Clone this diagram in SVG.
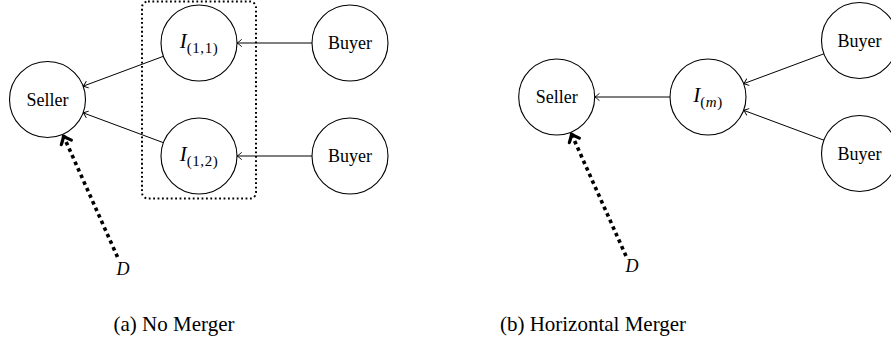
<svg xmlns="http://www.w3.org/2000/svg" width="891" height="352" viewBox="0 0 891 352">
<style>
.node{fill:#fff;stroke:#000;stroke-width:1.1}
.lbl{font-family:"Liberation Serif","DejaVu Serif",serif;font-size:18px;fill:#000;text-anchor:middle}
.it{font-style:italic}
.sub{font-size:15px;letter-spacing:0.6px}
.edge{stroke:#000;stroke-width:1;fill:none;marker-end:url(#arr)}
.dem{stroke:#000;stroke-width:3.6;fill:none;stroke-dasharray:3.6 3.6;marker-end:url(#thick)}
.cap{font-family:"Liberation Serif","DejaVu Serif",serif;font-size:21px;fill:#000;text-anchor:middle}
</style>
<defs>
<marker id="arr" viewBox="-6 -5 8 10" refX="0" refY="0" markerWidth="8" markerHeight="10" markerUnits="userSpaceOnUse" orient="auto" overflow="visible">
<path d="M -4.5 -3.4 Q -1.4 -0.7 0 0 Q -1.4 0.7 -4.5 3.4" fill="none" stroke="#000" stroke-width="0.9" stroke-linecap="round"/>
</marker>
<marker id="thick" viewBox="-10 -8 12 16" refX="0" refY="0" markerWidth="12" markerHeight="16" markerUnits="userSpaceOnUse" orient="auto" overflow="visible">
<path d="M -7 -5.5 Q -2.2 -1.2 0 0 Q -2.2 1.2 -7 5.5" fill="none" stroke="#000" stroke-width="3.2" stroke-linecap="round" stroke-linejoin="round"/>
</marker>
</defs>

<g id="merger-box">
<rect x="142" y="1.5" width="114" height="197" rx="6" fill="none" stroke="#000" stroke-width="2" stroke-dasharray="1.8 2.6"/>
</g>

<g id="connectors">
<line class="edge" x1="163.4" y1="56.3" x2="83.1" y2="86.2"/>
<line class="edge" x1="163.4" y1="142.7" x2="83.1" y2="112.8"/>
<line class="edge" x1="312" y1="43" x2="237" y2="43"/>
<line class="edge" x1="312" y1="156" x2="237" y2="156"/>
<line class="dem" x1="117.5" y1="257" x2="63.5" y2="136"/>
<line class="edge" x1="670" y1="97" x2="594.7" y2="97"/>
<line class="edge" x1="823.9" y1="53.8" x2="743.6" y2="83.7"/>
<line class="edge" x1="823.9" y1="140.2" x2="743.6" y2="110.3"/>
<line class="dem" x1="626" y1="256" x2="571.5" y2="134"/>
</g>

<g id="a-seller"><circle class="node" cx="47.5" cy="99.5" r="38"/><text class="lbl" x="47.5" y="105.5">Seller</text></g>
<g id="a-i11"><circle class="node" cx="199" cy="43" r="38"/><text class="lbl" x="199" y="48"><tspan class="it" font-size="21">I</tspan><tspan class="sub" dy="5">(1,1)</tspan></text></g>
<g id="a-i12"><circle class="node" cx="199" cy="156" r="38"/><text class="lbl" x="199" y="161"><tspan class="it" font-size="21">I</tspan><tspan class="sub" dy="5">(1,2)</tspan></text></g>
<g id="a-buyer1"><circle class="node" cx="350" cy="43" r="38"/><text class="lbl" x="350" y="49">Buyer</text></g>
<g id="a-buyer2"><circle class="node" cx="350" cy="156" r="38"/><text class="lbl" x="350" y="162">Buyer</text></g>
<g id="a-d"><text class="lbl it" x="123" y="275" font-size="16">D</text></g>

<g id="b-seller"><circle class="node" cx="556.7" cy="97" r="38"/><text class="lbl" x="556.7" y="103">Seller</text></g>
<g id="b-im"><circle class="node" cx="708" cy="97" r="38"/><text class="lbl" x="708" y="102"><tspan class="it" font-size="21">I</tspan><tspan class="sub" dy="5">(<tspan class="it">m</tspan>)</tspan></text></g>
<g id="b-buyer1"><circle class="node" cx="859.5" cy="40.5" r="38"/><text class="lbl" x="859.5" y="46.5">Buyer</text></g>
<g id="b-buyer2"><circle class="node" cx="859.5" cy="153.5" r="38"/><text class="lbl" x="859.5" y="159.5">Buyer</text></g>
<g id="b-d"><text class="lbl it" x="632" y="272" font-size="16">D</text></g>

<text class="cap" x="174" y="331">(a) No Merger</text>
<text class="cap" x="593" y="331">(b) Horizontal Merger</text>
</svg>
